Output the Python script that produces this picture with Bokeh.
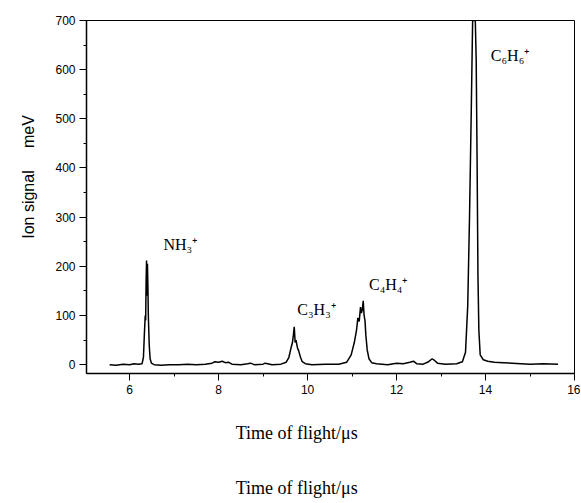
from bokeh.plotting import figure
from bokeh.models import Range1d, Label, FixedTicker
from bokeh.embed import file_html
from bokeh.resources import INLINE

# Time of flight (microseconds) and ion signal (meV)
time_us = [5.55, 5.70, 5.85, 6.00, 6.10, 6.20, 6.28, 6.31, 6.33, 6.35, 6.36, 6.37, 6.38,
           6.39, 6.40, 6.41, 6.42, 6.44, 6.46, 6.49, 6.55, 6.70, 6.90, 7.10, 7.30, 7.50,
           7.70, 7.85, 7.92, 8.00, 8.08, 8.15, 8.22, 8.30, 8.50, 8.65, 8.72, 8.80, 9.00,
           9.05, 9.20, 9.40, 9.52, 9.58, 9.63, 9.66, 9.68, 9.70, 9.72, 9.74, 9.77, 9.80,
           9.84, 9.88, 9.95, 10.10, 10.40, 10.70, 10.88, 10.98, 11.05, 11.10, 11.13, 11.16,
           11.19, 11.21, 11.23, 11.25, 11.27, 11.29, 11.31, 11.34, 11.38, 11.44, 11.55,
           11.80, 12.00, 12.15, 12.30, 12.38, 12.45, 12.60, 12.72, 12.80, 12.86, 12.92,
           13.10, 13.35, 13.48, 13.55, 13.60, 13.64, 13.68, 13.71, 13.74, 13.77, 13.79,
           13.81, 13.83, 13.85, 13.88, 13.95, 14.05, 14.20, 14.40, 14.60, 14.80, 15.00,
           15.30, 15.63]
signal_mev = [0, -1, 1, 0, 2, 1, 2, 15, 60, 100, 90, 170, 212,
              140, 205, 160, 100, 40, 12, 3, 0, -1, 0, 0, 1, 0,
              1, 3, 6, 5, 7, 4, 5, 1, 0, 2, 3, 0, 1,
              3, 0, 1, 5, 15, 35, 45, 60, 77, 45, 50, 35, 28,
              15, 6, 2, 0, 1, 1, 5, 20, 45, 70, 95, 88,
              117, 105, 112, 130, 100, 90, 60, 30, 12, 4, 2,
              0, 3, 2, 5, 7, 2, 1, 6, 12, 8, 3,
              1, 2, 6, 25, 120, 300, 520, 700, 700, 700, 620,
              420, 180, 70, 20, 10, 7, 5, 4, 3, 2, 1,
              2, 1]

x_ticks = [6, 8, 10, 12, 14, 16]
x_minor = [7, 9, 11, 13, 15]
y_ticks = [0, 100, 200, 300, 400, 500, 600, 700]
y_minor = [50, 150, 250, 350, 450, 550, 650]

ion_labels = ["NH\u2083\u207a", "C\u2083H\u2083\u207a", "C\u2084H\u2084\u207a", "C\u2086H\u2086\u207a"]
ion_label_x = [6.76, 9.77, 11.38, 14.12]
ion_label_y = [245, 113, 164, 629]

x_title = "Time of flight/\u03bcs"

p = figure(width=580, height=500, output_backend="svg", toolbar_location=None,
           x_range=Range1d(5.03, 16), y_range=Range1d(-18, 700),
           min_border_left=86, min_border_right=6, min_border_top=20, min_border_bottom=125)
p.background_fill_color = "white"
p.border_fill_color = "white"
p.outline_line_color = "black"
p.outline_line_width = 1
p.grid.visible = False

p.line(time_us, signal_mev, line_color="black", line_width=1.5)

for ax in (p.xaxis[0], p.yaxis[0]):
    ax.axis_line_width = 1.5
    ax.axis_line_color = "black"
    ax.major_tick_out = 7
    ax.major_tick_in = 0
    ax.minor_tick_out = 3
    ax.minor_tick_in = 0
    ax.major_tick_line_color = "black"
    ax.minor_tick_line_color = "black"
    ax.major_label_text_font = "Liberation Sans"
    ax.major_label_text_font_size = "12px"
    ax.major_label_text_color = "black"
    ax.major_label_standoff = 4
    ax.axis_label_text_color = "black"
    ax.axis_label_text_font_style = "normal"

p.xaxis.ticker = FixedTicker(ticks=x_ticks, minor_ticks=x_minor)
p.yaxis.ticker = FixedTicker(ticks=y_ticks, minor_ticks=y_minor)

p.yaxis.axis_label = "\u00a0" * 9 + "Ion signal\u00a0\u00a0\u00a0\u00a0\u00a0meV"
p.yaxis.axis_label_text_font = "Liberation Sans"
p.yaxis.axis_label_text_font_size = "16px"
p.yaxis.axis_label_standoff = 15

pad = "\u00a0" * 15
p.xaxis.axis_label = x_title + pad + "\n\n" + x_title + pad
p.xaxis.axis_label_text_font = "Liberation Serif"
p.xaxis.axis_label_text_font_size = "18px"
p.xaxis.axis_label_text_line_height = 1.375
p.xaxis.axis_label_standoff = 26

for txt, lx, ly in zip(ion_labels, ion_label_x, ion_label_y):
    p.add_layout(Label(x=lx, y=ly, text=txt, text_font="Liberation Serif",
                       text_font_size="16px", text_color="black",
                       text_baseline="alphabetic", text_align="left"))

open("out.html", "w").write(file_html(p, INLINE))
